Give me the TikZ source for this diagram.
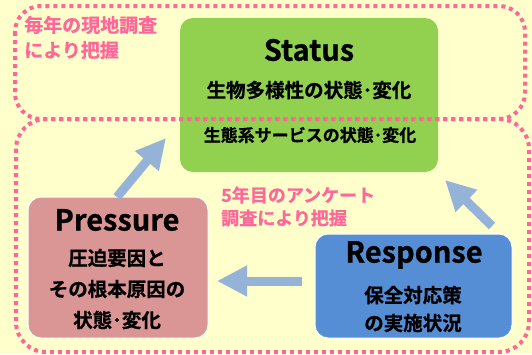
\documentclass[tikz,border=0pt]{standalone}
\usepackage{fontspec}
\setmainfont{Noto Sans CJK JP}[BoldFont={Noto Sans CJK JP Bold}, BoldFeatures={FakeBold=0.8}]
\usetikzlibrary{arrows.meta}
\definecolor{bgyellow}{HTML}{FFFFCC}
\definecolor{dotpink}{HTML}{FF6699}
\definecolor{stgreen}{HTML}{92D050}
\definecolor{prred}{HTML}{D99694}
\definecolor{rsblue}{HTML}{558ED5}
\definecolor{arblue}{HTML}{95B3D7}
\tikzset{
  boxbase/.style={rounded corners=13pt, inner sep=0pt},
  statusbox/.style={boxbase, fill=stgreen, minimum width=258pt, minimum height=154pt},
  pressbox/.style={boxbase, fill=prred, draw=white, line width=1pt, minimum width=180pt, minimum height=141pt},
  respbox/.style={boxbase, fill=rsblue, draw=white, line width=1pt, minimum width=197pt, minimum height=104pt},
  title/.style={font=\bfseries\fontsize{29}{32}\selectfont, inner sep=0pt},
  body/.style={font=\bfseries\fontsize{19.5}{21}\selectfont, inner sep=0pt},
  small/.style={font=\bfseries\fontsize{17}{19}\selectfont, inner sep=0pt},
  pinktext/.style={font=\bfseries\fontsize{19}{24.5}\selectfont, text=dotpink, inner sep=0pt, align=left},
  pinktextb/.style={font=\bfseries\fontsize{18}{23}\selectfont, text=dotpink, inner sep=0pt, align=left},
  dotline/.style={draw=dotpink, line width=4pt, dash pattern=on 4pt off 4pt},
  fatarrow/.style={draw=arblue, line width=9pt, -{Triangle[width=29pt,length=30pt]}},
}
\begin{document}
\begin{tikzpicture}[x=1pt,y=-1pt]
\fill[bgyellow] (0,0) rectangle (532,354);
\useasboundingbox (0,0) rectangle (532,354);
% boxes
\node[statusbox] (status) at (309,95) {};
\node[pressbox] (pressure) at (118,267.5) {};
\node[respbox] (response) at (413.5,286) {};
% dotted survey regions
\draw[dotline, rounded corners=26pt] (15,6) rectangle (525,119);
\draw[dotline, rounded corners=30pt] (16,119) rectangle (529,352);
% arrows
\coordinate (a1s) at (117,197);
\coordinate (a1e) at (166,138);
\coordinate (a2s) at (492,226);
\coordinate (a2e) at (445,180);
\coordinate (a3s) at (302,281);
\coordinate (a3e) at (217,281);
\draw[fatarrow] (a1s) -- (a1e);
\draw[fatarrow] (a2s) -- (a2e);
\draw[fatarrow] (a3s) -- (a3e);
% texts
\node[title] (sttitle) at (309,50) {Status};
\node[body] (st1) at (309,90) {生物多様性の状態･変化};
\node[small] (st2) at (310,135) {生態系サービスの状態･変化};
\node[title] (prtitle) at (117,220) {Pressure};
\node[body] (pr1) at (117,258) {圧迫要因と};
\node[body] (pr2) at (117,289) {その根本原因の};
\node[body] (pr3) at (117,320) {状態･変化};
\node[title] (rstitle) at (414,255) {Response};
\node[body] (rs1) at (413,295) {保全対応策};
\node[body] (rs2) at (413,323) {の実施状況};
\node[pinktext, anchor=west] (note1) at (24,25) {毎年の現地調査};
\node[pinktext, anchor=west] (note1b) at (24,50) {により把握};
\node[pinktextb, anchor=west] (note2) at (221,195) {5年目のアンケート};
\node[pinktextb, anchor=west] (note2b) at (221,218) {調査により把握};
\end{tikzpicture}
\end{document}
